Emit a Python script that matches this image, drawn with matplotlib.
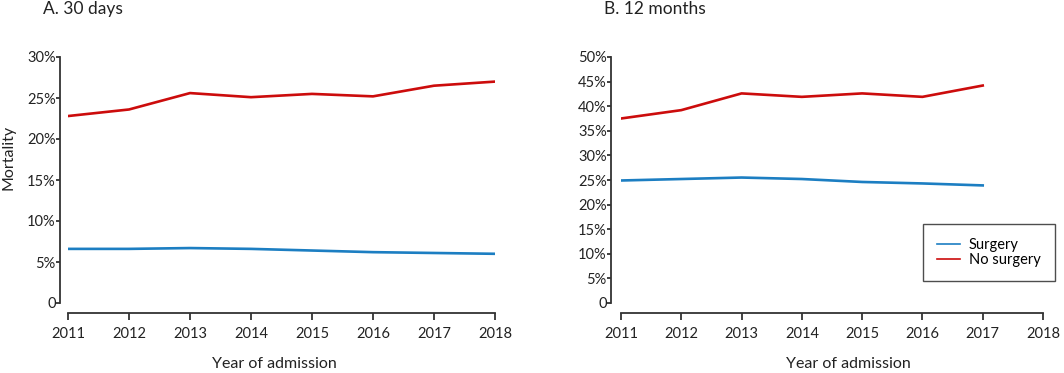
import matplotlib
matplotlib.use("Agg")
import matplotlib.pyplot as plt

plt.rcParams['font.family'] = ['Lato', 'DejaVu Sans']

years = [2011, 2012, 2013, 2014, 2015, 2016, 2017, 2018]

# A. 30 days mortality (%)
surg_30d = [6.6, 6.6, 6.7, 6.6, 6.4, 6.2, 6.1, 6.0]
nosurg_30d = [22.8, 23.6, 25.6, 25.1, 25.5, 25.2, 26.5, 27.0]

# B. 12 months mortality (%), no 2018 data
years_12m = [2011, 2012, 2013, 2014, 2015, 2016, 2017]
surg_12m = [24.9, 25.2, 25.5, 25.2, 24.6, 24.3, 23.9]
nosurg_12m = [37.5, 39.2, 42.6, 41.9, 42.6, 41.9, 44.2]

yticks_a = [0, 5, 10, 15, 20, 25, 30]
yticks_b = [0, 5, 10, 15, 20, 25, 30, 35, 40, 45, 50]

BLUE = '#1c7ec2'
RED = '#cc0c0c'
AX = '#333333'
TXT = '#222222'

fig = plt.figure(figsize=(10.64, 3.73), dpi=100)
W, H = 1064, 373


def make_ax(left, right, top, bottom, yticks, yout):
    ax = fig.add_axes([left / W, 1 - bottom / H, (right - left) / W, (bottom - top) / H])
    ax.set_xlim(2011, 2018)
    ax.set_ylim(0, yticks[-1])
    for s in ['top', 'right']:
        ax.spines[s].set_visible(False)
    ax.spines['left'].set_position(('outward', yout * 0.72))
    ax.spines['bottom'].set_position(('outward', 10 * 0.72))
    ax.spines['left'].set_bounds(0, yticks[-1])
    ax.spines['bottom'].set_bounds(2011, 2018)
    for s in ['left', 'bottom']:
        ax.spines[s].set_color(AX)
        ax.spines[s].set_linewidth(1.3)
    ax.set_xticks(years)
    ax.set_xticklabels([str(y) for y in years])
    ax.set_yticks(yticks)
    ax.set_yticklabels(['0'] + ['%d%%' % t for t in yticks[1:]])
    ax.tick_params(axis='x', direction='out', length=5, width=1.3, color=AX,
                   labelsize=10.5, pad=5, labelcolor=TXT)
    ax.tick_params(axis='y', direction='out', length=3, width=1.3, color=AX,
                   labelsize=10.5, pad=0, labelcolor=TXT)
    ax.set_facecolor('none')
    return ax


ax1 = make_ax(68, 495, 57, 303, yticks_a, 8)
ax1.plot(years, surg_30d, color=BLUE, lw=1.9)
ax1.plot(years, nosurg_30d, color=RED, lw=1.9)
ax1.set_ylabel('Mortality', fontsize=11.5, color=TXT, va='center', ha='center')
ax1.yaxis.set_label_coords(-(68 - 8) / 427, (303 - 157) / 246)
ax1.set_xlabel('Year of admission', fontsize=11.5, color=TXT)
ax1.xaxis.set_label_coords((274 - 68) / 427, -(364 - 303) / 246)
ax1.xaxis.label.set_va('center')

ax2 = make_ax(621, 1043, 57, 303, yticks_b, 10)
ax2.plot(years_12m, surg_12m, color=BLUE, lw=1.9, label='Surgery')
ax2.plot(years_12m, nosurg_12m, color=RED, lw=1.9, label='No surgery')
ax2.set_xlabel('Year of admission', fontsize=11.5, color=TXT)
ax2.xaxis.set_label_coords((848 - 621) / 422, -(364 - 303) / 246)
ax2.xaxis.label.set_va('center')

leg = ax2.legend(loc='upper left', bbox_to_anchor=((923 - 621) / 422, 1 - (224 - 57) / 246),
                 frameon=True, fancybox=False, fontsize=10.5, handlelength=1.6,
                 handletextpad=0.6, borderpad=0.95, labelspacing=0.1,
                 borderaxespad=0)
leg.get_frame().set_edgecolor(TXT)
leg.get_frame().set_linewidth(1.0)
for line in leg.get_lines():
    line.set_linewidth(1.2)

fig.text(43 / W, 1 - 1 / H, 'A. 30 days', fontsize=12.5, va='top', ha='left', color=TXT)
fig.text(604 / W, 1 - 1 / H, 'B. 12 months', fontsize=12.5, va='top', ha='left', color=TXT)

fig.savefig('out.png', dpi=100, facecolor='white')
